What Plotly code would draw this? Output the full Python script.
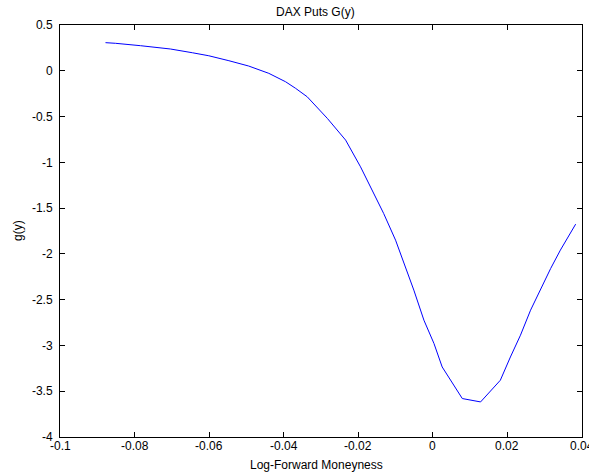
import plotly.graph_objects as go

# Log-forward moneyness of the DAX put strikes
moneyness = [-0.0878, -0.0851, -0.0784, -0.0704, -0.0645, -0.0601, -0.0547,
             -0.0494, -0.0440, -0.0395, -0.0368, -0.0337, -0.0283, -0.0234,
             -0.0194, -0.0167, -0.0132, -0.0100, -0.0073, -0.0051, -0.0024,
             0.0003, 0.0025, 0.0047, 0.0079, 0.0128, 0.0181, 0.0208, 0.0235,
             0.0262, 0.0289, 0.0316, 0.0342, 0.0383]

# Estimated g(y) at each moneyness level
g_values = [0.307, 0.300, 0.274, 0.238, 0.197, 0.164, 0.110, 0.052, -0.028,
            -0.120, -0.192, -0.284, -0.520, -0.757, -1.049, -1.267, -1.558,
            -1.850, -2.142, -2.396, -2.724, -2.979, -3.235, -3.380, -3.580,
            -3.617, -3.380, -3.126, -2.888, -2.615, -2.378, -2.159, -1.959,
            -1.675]

x_ticks = [-0.1, -0.08, -0.06, -0.04, -0.02, 0, 0.02, 0.04]
x_tick_labels = ["-0.1", "-0.08", "-0.06", "-0.04", "-0.02", "0", "0.02", "0.04"]
y_ticks = [0.5, 0, -0.5, -1, -1.5, -2, -2.5, -3, -3.5, -4]
y_tick_labels = ["0.5", "0", "-0.5", "-1", "-1.5", "-2", "-2.5", "-3", "-3.5", "-4"]

font_family = "Liberation Sans, Arial, sans-serif"
text_font = dict(family=font_family, size=12, color="black")

fig = go.Figure()
fig.add_trace(go.Scatter(
    x=moneyness, y=g_values, mode="lines",
    line=dict(color="#0000ff", width=1),
    hoverinfo="skip", showlegend=False,
))

axis_common = dict(
    showgrid=False, zeroline=False, showline=True, linecolor="black",
    linewidth=1, mirror="ticks", ticks="inside", ticklen=5, tickwidth=1,
    tickcolor="black", tickfont=text_font,
)

# x tick labels sit close under the axis, MATLAB style
x_label_annotations = [
    dict(text=lab, x=v, xref="x", y=0, yref="paper", yanchor="middle",
         yshift=-9, showarrow=False, font=text_font)
    for v, lab in zip(x_ticks, x_tick_labels)
]

fig.update_layout(
    width=589, height=475,
    margin=dict(l=60, r=7, t=25, b=38),
    paper_bgcolor="white", plot_bgcolor="white",
    font=text_font,
    xaxis=dict(range=[-0.1, 0.04], tickvals=x_ticks, showticklabels=False,
               **axis_common),
    yaxis=dict(range=[-4, 0.5], tickvals=y_ticks, ticktext=y_tick_labels,
               ticklabelstandoff=4, **axis_common),
    annotations=x_label_annotations + [
        dict(text="DAX Puts G(y)", xref="paper", yref="paper", x=0.5, y=1,
             yanchor="middle", yshift=13, xshift=-6, showarrow=False,
             font=text_font),
        dict(text="Log-Forward Moneyness", xref="paper", yref="paper",
             x=0.5, y=0, yanchor="middle", yshift=-28, xshift=-5,
             showarrow=False, font=text_font),
        dict(text="g(y)", xref="paper", yref="paper", x=0, y=0.5,
             xanchor="center", yanchor="middle", xshift=-42, textangle=-90,
             showarrow=False, font=text_font),
    ],
)

fig.write_html("out.html")
